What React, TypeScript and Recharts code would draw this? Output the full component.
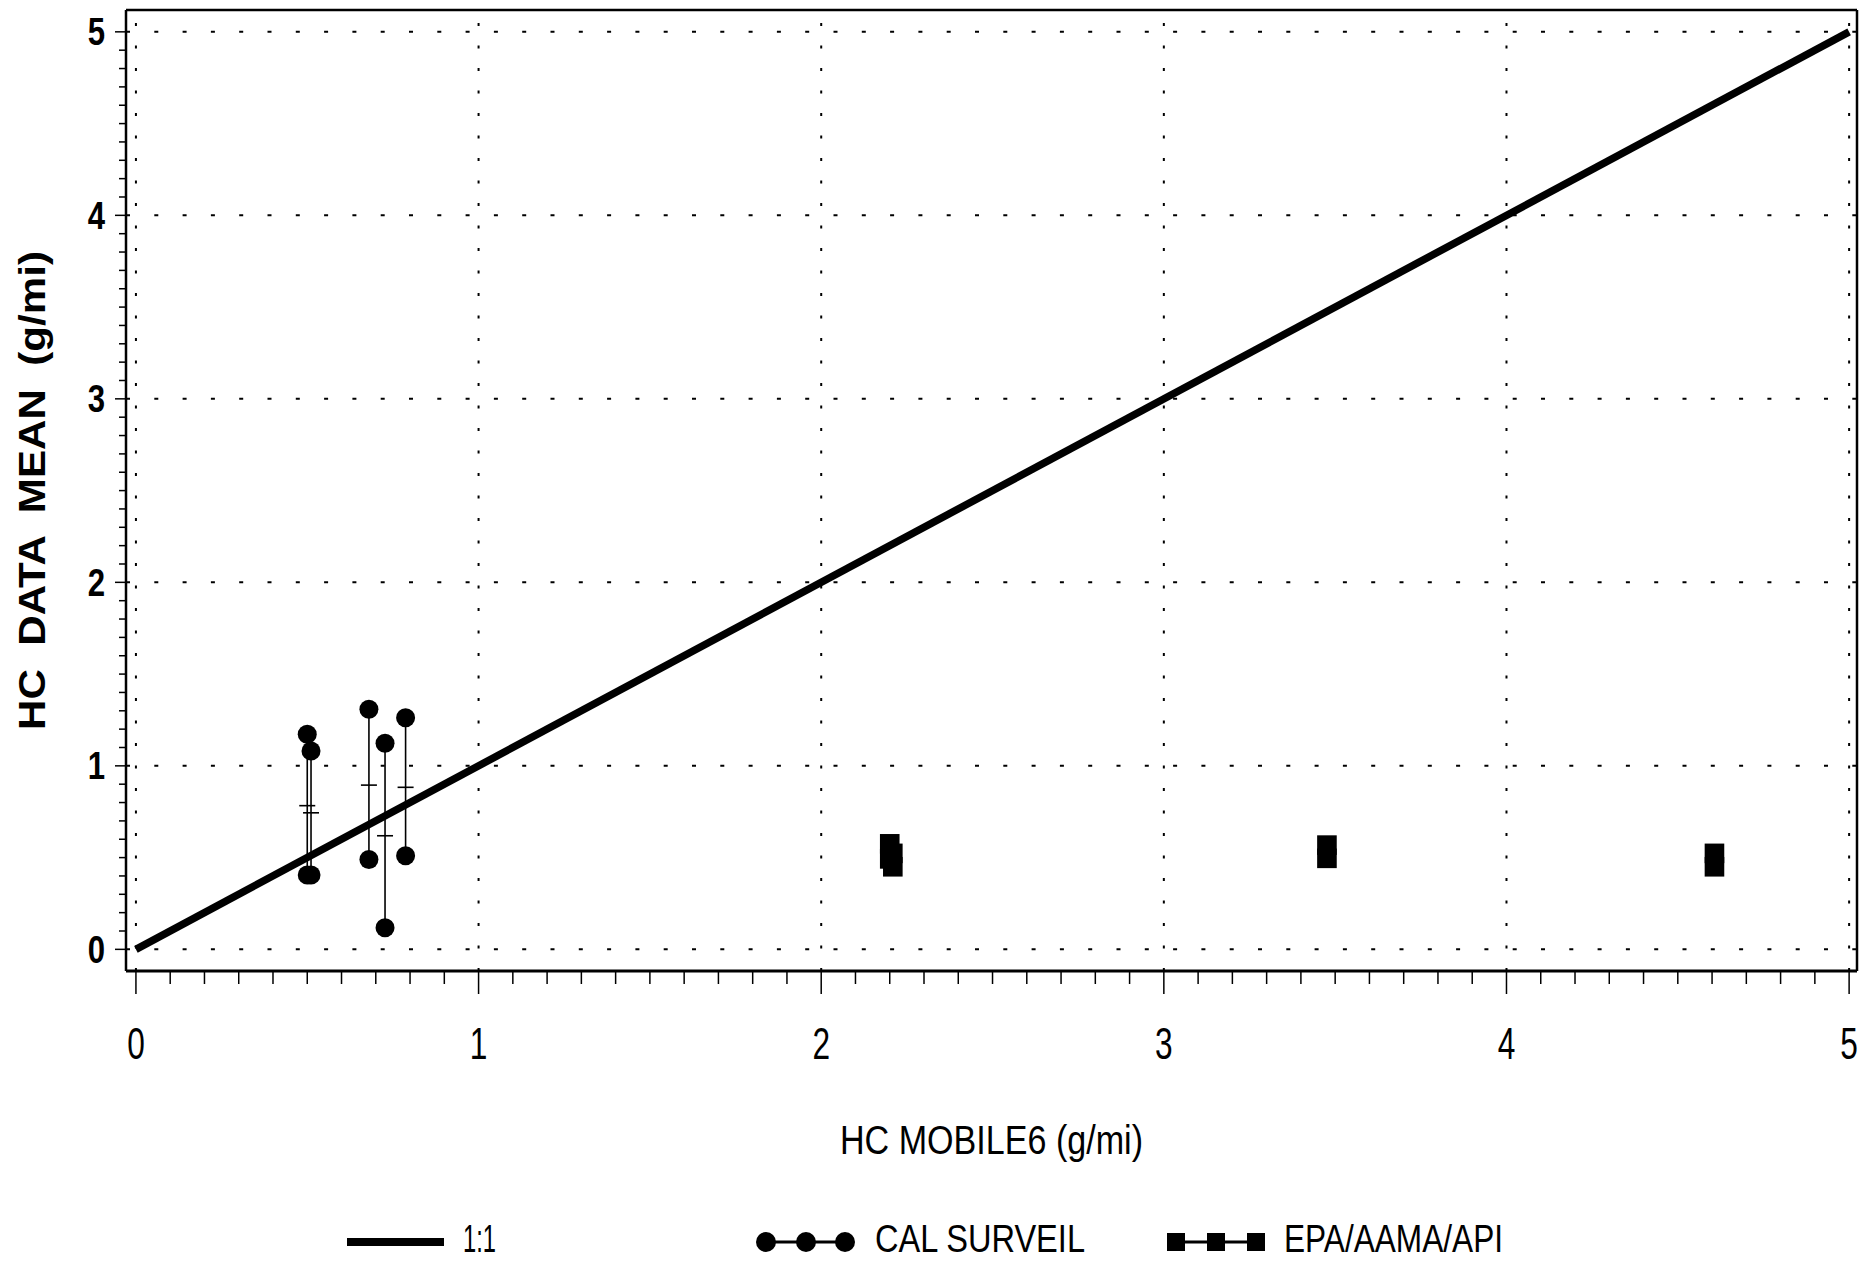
import React from "react";
import {
  ComposedChart,
  Scatter,
  XAxis,
  YAxis,
  ErrorBar,
  ReferenceLine,
  Legend,
} from "recharts";

// axis tick labels
const xTicks = [0, 1, 2, 3, 4, 5];
const yTicks = [0, 1, 2, 3, 4, 5];

// 1:1 reference line
const oneToOneX = [0, 5];
const oneToOneY = [0, 5];

// CAL SURVEIL: high / low / mean per vehicle group
const calX = [0.5, 0.511, 0.68, 0.727, 0.787];
const calHigh = [1.172, 1.081, 1.308, 1.123, 1.262];
const calLow = [0.405, 0.405, 0.49, 0.118, 0.51];
const calMean = [0.783, 0.744, 0.895, 0.619, 0.883];

// EPA/AAMA/API: high / low
const epaX = [2.2, 2.209, 3.476, 4.607];
const epaHigh = [0.575, 0.523, 0.568, 0.523];
const epaLow = [0.493, 0.45, 0.496, 0.45];

const SANS = '"Liberation Sans", Arial, Helvetica, sans-serif';

const xDomain = [-0.029, 5.023];
const yDomain = [-0.118, 5.119];

// minor tick every 0.1
const axisTicks = Array.from({ length: 51 }, (_, i) => i / 10);
const isMajor = (v: number) => Math.abs(v - Math.round(v)) < 1e-6;

const lineData = oneToOneX.map((x, i) => ({ x, y: oneToOneY[i] }));
const calMeanData = calX.map((x, i) => ({
  x,
  y: calMean[i],
  err: [calMean[i] - calLow[i], calHigh[i] - calMean[i]],
}));
const calEnds = calX.flatMap((x, i) => [
  { x, y: calHigh[i] },
  { x, y: calLow[i] },
]);
const epaEnds = epaX.flatMap((x, i) => [
  { x, y: epaHigh[i] },
  { x, y: epaLow[i] },
]);

const XTick = (props: any) => {
  const { x, y, payload } = props;
  const v = payload.value;
  const major = isMajor(v);
  return (
    <g>
      <line x1={x} x2={x} y1={y} y2={y + (major ? 23 : 13)} stroke="#000" strokeWidth={1.5} />
      {major && xTicks.includes(Math.round(v)) && (
        <text
          transform={`translate(${x},${y + 88}) scale(0.72,1)`}
          textAnchor="middle"
          fontSize={44}
          fontFamily={SANS}
          fill="#000"
        >
          {Math.round(v)}
        </text>
      )}
    </g>
  );
};

const YTick = (props: any) => {
  const { x, y, payload } = props;
  const v = payload.value;
  const major = isMajor(v);
  return (
    <g>
      <line x1={x - (major ? 11 : 7)} x2={x} y1={y} y2={y} stroke="#000" strokeWidth={1.5} />
      {major && yTicks.includes(Math.round(v)) && (
        <text
          transform={`translate(${x - 21},${y + 13.5}) scale(0.82,1)`}
          textAnchor="end"
          fontSize={38}
          fontWeight="bold"
          fontFamily={SANS}
          fill="#000"
        >
          {Math.round(v)}
        </text>
      )}
    </g>
  );
};

const Dot = (props: any) => <circle cx={props.cx} cy={props.cy} r={9.5} fill="#000" />;
const Square = (props: any) => (
  <rect x={props.cx - 9.8} y={props.cy - 9.8} width={19.6} height={19.6} fill="#000" />
);
const MeanTick = (props: any) => (
  <line x1={props.cx - 8} x2={props.cx + 8} y1={props.cy} y2={props.cy} stroke="#000" strokeWidth={1.6} />
);
const NoShape = () => <g />;

const XLabel = (props: any) => {
  const vb = props.viewBox;
  return (
    <text
      x={vb.x + vb.width / 2}
      y={vb.y + 183}
      textAnchor="middle"
      fontSize={41}
      fontFamily={SANS}
      fill="#000"
      textLength={303}
      lengthAdjust="spacingAndGlyphs"
    >
      HC MOBILE6 (g/mi)
    </text>
  );
};

const YLabel = (props: any) => {
  const vb = props.viewBox;
  const cy = vb.y + vb.height / 2;
  return (
    <text
      x={32}
      y={cy}
      transform={`rotate(-90 32 ${cy})`}
      textAnchor="middle"
      dominantBaseline="central"
      fontSize={37}
      fontWeight="bold"
      fontFamily={SANS}
      fill="#000"
      textLength={479}
      lengthAdjust="spacingAndGlyphs"
      style={{ whiteSpace: "pre" }}
    >
      {"HC  DATA  MEAN  (g/mi)"}
    </text>
  );
};

const LegendContent = () => (
  <svg width={1864} height={62} style={{ display: "block" }}>
    <g fontFamily={SANS} fontSize={39} fill="#000">
      <line x1={347} x2={444} y1={42} y2={42} stroke="#000" strokeWidth={8} />
      <text x={463} y={52} textLength={33} lengthAdjust="spacingAndGlyphs">1:1</text>

      <line x1={766} x2={845} y1={42} y2={42} stroke="#000" strokeWidth={3} />
      {[766, 806, 845].map((cx) => (
        <circle key={cx} cx={cx} cy={42} r={10} fill="#000" />
      ))}
      <text x={875} y={52} textLength={210} lengthAdjust="spacingAndGlyphs">CAL SURVEIL</text>

      <line x1={1176} x2={1256} y1={42} y2={42} stroke="#000" strokeWidth={3} />
      {[1176, 1216, 1256].map((cx) => (
        <rect key={cx} x={cx - 9} y={33} width={18} height={18} fill="#000" />
      ))}
      <text x={1284} y={52} textLength={219} lengthAdjust="spacingAndGlyphs">EPA/AAMA/API</text>
    </g>
  </svg>
);

export default function App() {
  return (
    <div style={{ position: "absolute", left: 0, top: 0, width: 1864, height: 1262, background: "#fff" }}>
      <ComposedChart width={1864} height={1262} margin={{ top: 10, right: 7, left: 0, bottom: 0 }}>
        <XAxis
          dataKey="x"
          type="number"
          domain={xDomain}
          allowDataOverflow
          ticks={axisTicks}
          interval={0}
          tickLine={false}
          tickSize={0}
          tickMargin={0}
          tick={XTick}
          axisLine={{ stroke: "#000", strokeWidth: 3 }}
          height={291}
          label={{ content: XLabel }}
        />
        <YAxis
          dataKey="y"
          type="number"
          domain={yDomain}
          allowDataOverflow
          ticks={axisTicks}
          interval={0}
          tickLine={false}
          tickSize={0}
          tickMargin={0}
          tick={YTick}
          axisLine={{ stroke: "#000", strokeWidth: 2.5 }}
          width={126}
          label={{ content: YLabel }}
        />

        {yTicks.map((v) => (
          <ReferenceLine key={"h" + v} y={v} stroke="#000" strokeWidth={2} strokeDasharray="4 24.3" />
        ))}
        {xTicks.map((v) => (
          <ReferenceLine key={"v" + v} x={v} stroke="#000" strokeWidth={2} strokeDasharray="3 19.5" />
        ))}
        <ReferenceLine y={yDomain[1]} stroke="#000" strokeWidth={2.5} />
        <ReferenceLine x={xDomain[1]} stroke="#000" strokeWidth={2.5} />

        <Scatter
          name="1:1"
          data={lineData}
          line={{ stroke: "#000", strokeWidth: 7.5 }}
          shape={NoShape}
          isAnimationActive={false}
        />
        <Scatter name="CAL mean" data={calMeanData} shape={MeanTick} isAnimationActive={false}>
          <ErrorBar dataKey="err" direction="y" width={0} stroke="#000" strokeWidth={1.6} />
        </Scatter>
        <Scatter name="CAL SURVEIL" data={calEnds} shape={Dot} isAnimationActive={false} />
        <Scatter name="EPA/AAMA/API" data={epaEnds} shape={Square} isAnimationActive={false} />

        <Legend
          verticalAlign="middle"
          align="center"
          layout="horizontal"
          content={LegendContent}
          wrapperStyle={{ position: "absolute", left: 0, top: 1200, width: 1864, height: 62 }}
        />
      </ComposedChart>
    </div>
  );
}
